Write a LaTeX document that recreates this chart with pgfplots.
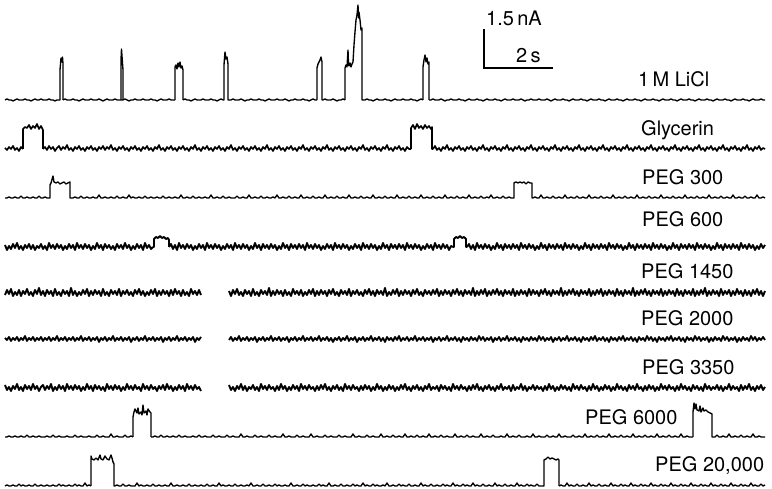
\documentclass[border=0pt]{standalone}
\usepackage{fontspec}
\setmainfont{TeX Gyre Heros}
\usepackage{pgfplots}
\usepackage{pgfplotstable}
\pgfplotsset{compat=1.18}
\pgfplotstableread{
x a b c d e f g h i
5 0 1 0 2 -2 1 3 0 0
7 1 -1 0 -3 3 -1 -2 0 1
9 0 2 1 1 -1 2 1 1 0
11 0 0 0 -2 4 -2 -3 0 0
13 -1 3 0 3 -3 1 2 0 1
15 0 -1 1 -1 1 -1 -1 1 0
17 1 1 0 4 -2 2 4 0 0
19 0 -2 0 -2 3 -2 -2 0 2
21 0 2 2 1 -3 1 1 1 0
23 0 0 0 -3 2 -1 -3 0 1
25 1 nan 0 2 -1 3 3 0 0
27 0 nan 1 -1 4 -2 -1 2 0
29 0 nan 0 3 -2 1 2 0 1
31 -1 nan 0 -2 1 -1 -2 0 0
33 0 nan 1 2 -3 2 4 1 0
35 1 nan 0 -3 3 -2 -1 0 2
37 0 nan 0 1 -1 1 2 0 0
39 0 nan 2 -1 5 -1 -3 1 0
41 1 nan 0 3 -2 2 1 0 1
43 0 0 0 -2 2 -2 3 0 0
45 0 2 1 1 -3 1 -2 0 0
47 0 -1 0 -3 3 -1 2 1 1
49 1 3 0 4 -1 2 -1 0 0
51 0 0 nan -1 2 -2 4 0 0
53 0 2 nan 2 -3 1 -3 2 1
55 -1 -2 nan -2 4 -1 1 0 0
57 0 1 nan 3 -2 3 -2 0 0
59 0 3 nan -1 1 -2 3 1 2
61 nan -1 nan 2 -3 1 -1 0 0
63 0 2 nan -3 3 -1 2 0 1
65 1 0 nan 1 -1 2 -3 0 0
67 0 4 nan -2 2 -2 4 1 0
69 0 -1 nan 3 -3 1 -1 0 1
71 0 1 0 -1 5 -1 2 0 0
73 1 -2 0 2 -2 2 -2 0 0
75 0 2 1 -3 2 -2 3 2 2
77 0 0 0 4 -3 1 -1 0 0
79 -1 3 0 -1 1 -1 2 0 1
81 0 -1 2 2 -2 3 -3 1 0
83 1 1 0 -2 3 -2 1 0 0
85 0 -2 0 3 -1 1 -2 0 3
87 0 2 1 -1 4 -1 4 0 0
89 0 0 0 2 -3 2 -1 1 1
91 1 3 0 -3 2 -2 2 0 0
93 0 -1 1 1 -2 1 -3 0 nan
95 0 1 0 -2 3 -1 3 0 nan
97 0 -2 0 4 -1 2 -1 2 nan
99 1 2 3 -1 2 -3 2 0 nan
101 0 0 0 2 -3 1 -2 0 nan
103 -1 3 0 -3 4 -1 1 1 nan
105 0 -1 1 3 -2 2 -3 0 nan
107 1 2 0 -1 1 -2 4 0 nan
109 0 0 0 2 -3 1 -1 0 nan
111 0 4 1 -2 3 -1 2 3 nan
113 0 -1 0 1 -1 3 -2 0 nan
115 1 1 0 -3 2 -2 3 0 0
117 0 -2 2 3 -2 1 -1 1 1
119 0 2 0 -1 4 -1 2 0 0
121 0 0 0 2 -3 2 -3 0 0
123 0 3 1 -2 2 -2 1 0 2
125 1 -1 0 4 -1 1 -2 2 0
127 0 1 0 -1 3 -1 4 0 0
129 -1 -2 3 2 -2 2 -1 0 1
131 0 2 0 -3 1 -3 2 1 0
133 0 0 1 1 -3 1 -2 0 0
135 1 3 0 -2 3 -1 3 nan 0
137 0 -1 0 3 -1 2 -1 nan 3
139 0 1 1 -1 4 -2 1 nan 0
141 0 -2 0 2 -2 1 -3 nan 1
143 1 2 0 -3 2 -1 4 nan 0
145 0 0 2 4 -3 3 -1 nan 0
147 0 3 0 -1 1 -2 2 nan 1
149 0 -1 0 2 -2 1 -2 nan 0
151 1 1 1 -2 3 -1 3 0 0
153 0 -2 0 0 -1 2 -1 0 2
155 0 2 0 nan 4 -2 1 1 0
157 -1 0 1 nan -3 1 -3 0 0
159 0 4 0 nan 2 -1 2 0 1
161 1 -1 0 nan -2 2 -1 2 0
163 0 1 2 nan 3 -3 3 0 0
165 0 -2 0 nan -1 1 -2 0 1
167 0 2 0 nan 2 -1 4 1 0
169 1 0 1 0 -3 2 -1 0 0
171 0 3 0 3 3 -2 2 0 3
173 0 -1 0 -2 -2 1 -3 1 0
175 0 1 1 2 4 -1 1 0 0
177 nan -2 0 -3 -1 3 -2 0 1
179 nan 2 0 4 2 -2 3 2 0
181 nan 0 3 -1 -3 1 -1 0 0
183 0 3 0 2 3 -1 2 0 1
185 1 -1 0 -2 -2 2 -3 1 0
187 0 1 1 3 1 -2 4 0 0
189 0 -2 0 -1 -3 1 -1 0 2
191 -1 2 0 2 4 -1 2 0 0
193 0 0 2 -3 -1 2 -2 1 0
195 1 4 0 1 2 -3 3 0 1
197 0 -1 0 -2 -2 1 -1 0 0
199 0 1 1 3 3 -1 1 2 0
201 0 -2 0 -1 -2 2 -3 0 1
203 1 2 0 2 nan nan nan 0 0
205 0 0 1 -3 nan nan nan 1 0
207 0 3 0 4 nan nan nan 0 2
209 0 -1 0 -1 nan nan nan 0 0
211 1 1 3 2 nan nan nan 0 0
213 0 -2 0 -2 nan nan nan 2 1
215 0 2 0 3 nan nan nan 0 0
217 -1 0 1 -1 nan nan nan 0 0
219 0 3 0 2 nan nan nan 1 3
221 1 -1 0 -3 nan nan nan 0 0
223 0 1 2 1 nan nan nan 0 1
225 nan -2 0 -2 nan nan nan 0 0
227 nan 2 0 3 nan nan nan 2 0
229 0 0 1 -1 2 -1 3 0 1
231 0 4 0 2 -3 2 -2 0 0
233 1 -1 0 -3 3 -2 1 1 0
235 0 1 0 4 -1 1 -3 0 2
237 0 -2 2 -1 4 -1 2 0 0
239 0 2 0 2 -2 3 -1 0 0
241 1 0 0 -2 1 -2 4 3 1
243 0 3 1 3 -3 1 -2 0 0
245 -1 -1 0 -1 3 -1 2 0 0
247 0 1 0 2 -1 2 -3 1 1
249 0 -2 3 -3 2 -2 1 0 0
251 1 2 0 1 -3 1 -1 0 3
253 0 0 0 -2 4 -1 3 0 0
255 0 3 1 4 -2 2 -2 2 0
257 0 -1 0 -1 1 -3 1 0 1
259 1 1 0 2 -3 1 -3 0 0
261 0 -2 2 -3 3 -1 4 1 0
263 0 2 0 3 -1 2 -1 0 2
265 -1 0 0 -1 2 -2 2 0 0
267 0 4 1 2 -2 1 -2 0 0
269 1 -1 0 -2 5 -1 3 2 1
271 0 1 0 3 -3 3 -1 0 0
273 0 -2 1 -1 2 -2 1 0 0
275 0 2 0 2 -2 1 -3 1 2
277 1 0 3 -3 3 -1 2 0 0
279 0 3 0 1 -1 2 -2 0 1
281 0 -1 0 -2 2 -2 4 0 0
283 0 1 1 4 -3 1 -1 3 0
285 1 -2 0 -1 3 -1 2 0 1
287 0 2 0 2 -2 2 -3 0 0
289 -1 0 2 -3 1 -3 1 1 0
291 0 3 0 3 -3 1 -2 0 3
293 0 -1 0 -1 4 -1 3 0 0
295 1 1 1 2 -1 2 -1 0 0
297 0 -2 0 -2 2 -2 2 2 1
299 0 2 0 3 -2 1 -3 0 0
301 0 0 3 -1 3 -1 4 0 0
303 1 4 0 2 -3 3 -1 1 2
305 0 -1 0 -3 1 -2 2 0 0
307 0 1 1 4 -2 1 -2 0 1
309 -1 -2 0 -1 3 -1 3 0 0
311 0 2 0 2 -1 2 -1 3 0
313 1 0 2 -2 4 -2 1 0 1
315 0 3 0 3 -3 1 -3 0 0
317 0 -1 0 -1 2 -1 2 1 0
319 nan 1 1 2 -2 3 -2 0 2
321 nan -2 0 -3 3 -2 3 0 0
323 0 2 0 1 -1 1 -1 0 1
325 1 0 3 -2 2 -1 4 2 0
327 0 4 0 3 -3 2 -2 0 0
329 0 -1 0 -1 3 -2 1 0 3
331 0 1 1 2 -1 1 -3 1 0
333 1 -2 0 -3 4 -3 2 0 0
335 0 2 0 4 -2 1 -1 0 1
337 -1 0 2 -1 1 -1 3 0 0
339 0 3 0 2 -3 2 -2 2 0
341 0 -1 0 -2 3 -2 1 0 2
343 1 1 1 3 -1 1 -3 0 0
345 0 -2 0 -1 2 -1 4 1 0
347 nan 2 0 2 -2 3 -1 0 1
349 nan 0 3 -3 4 -2 2 0 0
351 nan 3 0 1 -3 1 -2 0 0
353 nan -1 0 -2 2 -1 3 3 2
355 nan 1 1 3 -1 2 -1 0 0
357 nan -2 0 -1 3 -3 1 0 1
359 nan 2 0 2 -2 1 -3 1 0
361 nan 0 2 -3 1 -1 2 0 0
363 0 4 0 4 -3 2 -2 0 3
365 0 -1 0 -1 3 -2 3 0 0
367 1 1 1 2 -1 1 -1 2 1
369 0 -2 0 -2 4 -1 2 0 0
371 0 2 0 3 -2 3 -3 0 0
373 -1 0 3 -1 2 -2 1 1 2
375 0 3 0 2 -3 1 -2 0 0
377 1 -1 0 -3 3 -1 4 0 1
379 0 1 1 1 -1 2 -1 0 0
381 0 -2 0 -2 2 -2 2 3 0
383 0 2 0 4 -2 1 -3 0 1
385 1 0 2 -1 5 -3 1 0 0
387 0 4 0 2 -3 2 -2 1 3
389 0 -1 0 -3 1 -1 3 0 0
391 -1 1 1 3 -2 1 -1 0 0
393 0 -2 0 -1 3 -2 2 2 1
395 1 2 0 2 -1 2 -3 0 0
397 0 0 3 -2 4 -1 1 0 0
399 0 3 0 3 -3 3 -2 1 2
401 0 -1 0 -1 2 -2 3 0 0
403 1 1 1 2 -2 1 -1 0 1
405 0 -2 0 -3 3 -1 4 3 0
407 0 2 0 4 -1 2 -2 0 0
409 0 0 2 -1 2 -2 1 0 2
411 1 0 0 2 -3 1 -3 1 0
413 0 nan 0 -2 3 -1 2 0 0
415 0 nan 1 3 -1 3 -1 0 1
417 -1 nan 0 -1 4 -2 3 2 0
419 0 nan 0 2 -2 1 -2 0 0
421 1 nan 3 -3 1 -1 1 0 3
423 0 nan 0 1 -3 2 -3 1 0
425 nan nan 0 -2 3 -2 2 0 1
427 nan nan 1 3 -1 1 -1 0 0
429 0 nan 0 -1 2 -1 4 3 0
431 0 nan 0 2 -2 2 -2 0 2
433 1 0 2 -3 3 -3 1 0 0
435 0 3 0 4 -1 1 -1 1 0
437 0 -1 0 -1 4 -1 2 0 1
439 0 1 1 2 -3 2 -3 0 0
441 1 -2 0 -2 2 -2 3 2 0
443 0 2 0 3 -2 1 -1 0 2
445 -1 0 3 -1 3 -1 2 0 0
447 0 4 0 2 -1 3 -2 1 1
449 0 -1 0 -3 2 -2 1 0 0
451 1 1 1 1 -3 1 -3 0 0
453 0 -2 0 0 3 -1 4 0 3
455 0 2 0 nan -1 2 -1 3 0
457 0 0 2 nan 4 -2 2 0 1
459 1 3 0 nan -2 1 -2 0 0
461 0 -1 0 nan 2 -3 3 1 0
463 0 1 1 nan -3 2 -1 0 2
465 -1 -2 0 nan 3 -1 1 0 0
467 0 2 0 0 -1 1 -3 2 1
469 1 0 3 3 2 -2 2 0 0
471 0 3 0 -2 -2 2 -2 0 0
473 0 -1 0 2 5 -1 3 1 3
475 0 1 1 -3 -3 1 -1 0 0
477 1 -2 0 4 2 -2 4 0 1
479 0 2 0 -1 -2 3 -2 0 0
481 0 0 2 2 3 -1 1 3 0
483 -1 4 0 -2 -1 2 -3 0 2
485 0 -1 0 3 4 -2 2 0 0
487 1 1 1 -1 -3 1 -1 1 0
489 0 -2 0 2 2 -1 3 0 1
491 0 2 3 -3 -2 2 -2 0 0
493 0 0 0 1 3 -3 1 2 0
495 1 3 0 -2 -1 1 -3 0 3
497 0 -1 1 4 4 -1 2 0 0
499 0 1 0 -1 -2 2 -1 0 1
501 -1 -2 0 2 2 -2 4 1 0
503 0 2 2 -3 -3 1 -2 0 0
505 1 0 0 3 3 -1 1 0 2
507 0 4 0 -1 -1 3 -1 3 0
509 0 -1 1 2 2 -2 2 0 0
511 0 1 0 -2 -2 1 -3 0 1
513 1 -2 0 3 4 -1 3 1 0
515 0 2 nan -1 -3 2 -2 0 0
517 0 0 nan 2 2 -2 1 0 3
519 0 3 nan -3 -2 1 -1 2 0
521 1 -1 nan 4 3 -3 4 0 1
523 0 1 nan -1 -1 2 -2 0 0
525 -1 -2 nan 2 2 -1 2 0 0
527 0 2 nan -2 -3 1 -3 1 2
529 0 0 nan 3 4 -2 1 0 0
531 1 4 nan -1 -2 2 -1 0 1
533 0 -1 0 2 3 -1 3 3 0
535 0 1 1 -3 -1 1 -2 0 0
537 0 -2 0 1 2 -2 2 0 2
539 1 2 0 -2 -3 3 -1 1 0
541 0 0 3 4 3 -1 1 0 0
543 0 3 0 -1 -1 2 -3 0 0
545 0 -1 0 2 4 -2 2 0 nan
547 1 1 1 -3 -2 1 -2 2 nan
549 0 -2 0 3 2 -1 4 0 nan
551 -1 2 0 -1 -3 2 -1 0 nan
553 0 0 2 2 3 -3 2 1 nan
555 1 4 0 -2 -1 1 -3 0 nan
557 0 -1 0 3 2 -1 1 0 nan
559 0 1 1 -1 -2 2 -2 3 0
561 0 -2 0 2 5 -2 3 0 1
563 1 2 0 -3 -3 1 -1 0 0
565 0 0 3 4 2 -1 2 1 0
567 0 3 0 -1 -2 3 -2 0 3
569 -1 -1 0 2 3 -2 1 0 0
571 0 1 1 -2 -1 1 -3 0 1
573 1 -2 0 3 4 -1 4 2 0
575 0 2 0 -1 -2 2 -1 0 0
577 0 0 2 2 2 -2 2 0 2
579 0 4 0 -3 -3 1 -2 1 0
581 1 -1 0 1 3 -3 3 0 0
583 0 1 1 -2 -1 2 -1 0 1
585 0 -2 0 4 2 -1 1 3 0
587 -1 2 0 -1 -2 1 -3 0 0
589 0 0 3 2 4 -2 2 0 3
591 1 3 0 -3 -3 2 -2 1 0
593 0 -1 0 3 2 -1 4 0 1
595 0 1 1 -1 -2 3 -1 0 0
597 0 -2 0 2 3 -2 2 2 0
599 1 2 0 -2 -1 1 -3 0 2
601 0 0 2 3 4 -1 1 0 0
603 0 4 0 -1 -3 2 -2 1 0
605 -1 -1 0 2 2 -2 3 0 1
607 0 1 1 -3 -2 1 -1 0 0
609 1 -2 0 4 3 -3 2 3 0
611 0 2 0 -1 -1 2 -3 0 3
613 0 0 3 2 2 -1 1 0 0
615 0 3 0 -2 -3 1 -2 1 1
617 1 -1 0 3 4 -2 4 0 0
619 0 1 1 -1 -2 2 -1 0 0
621 0 -2 0 2 2 -1 2 2 2
623 -1 2 0 -3 -3 3 -2 0 0
625 0 0 2 1 3 -2 1 0 1
627 1 4 0 -2 -1 1 -3 1 0
629 0 -1 0 4 2 -1 3 0 0
631 0 1 1 -1 -2 2 -1 0 3
633 0 -2 0 2 5 -2 2 3 0
635 1 2 0 -3 -3 1 -2 0 1
637 0 0 3 3 2 -3 4 0 0
639 0 3 0 -1 -2 2 -1 1 0
641 -1 -1 0 2 3 -1 1 0 2
643 0 1 1 -2 -1 1 -3 0 0
645 1 -2 0 3 4 -2 2 2 1
647 0 2 0 -1 -2 3 -2 0 0
649 0 0 2 2 2 -1 3 0 0
651 0 4 0 -3 -3 2 -1 1 3
653 1 -1 0 4 3 -2 2 0 0
655 0 1 1 -1 -1 1 -3 0 1
657 0 -2 0 2 2 -3 1 3 0
659 -1 2 0 -2 -2 2 -2 0 0
661 0 0 3 3 4 -1 4 0 2
663 1 3 0 -1 -3 1 -1 1 0
665 0 -1 0 2 2 -2 2 0 1
667 0 1 1 -3 -2 2 -2 0 0
669 0 -2 0 1 3 -1 3 2 0
671 1 2 0 -2 -1 3 -1 0 3
673 0 0 2 4 2 -2 1 0 0
675 0 4 0 -1 -3 1 -3 1 1
677 -1 -1 0 2 4 -1 2 0 0
679 0 1 1 -3 -2 2 -2 0 0
681 1 -2 0 3 2 -2 4 3 2
683 0 2 0 -1 -3 1 -1 0 0
685 0 0 3 2 3 -3 2 0 1
687 0 3 0 -2 -1 2 -2 1 0
689 1 -1 0 3 2 -1 1 0 0
691 0 1 1 -1 -2 1 -3 0 3
693 0 -2 0 2 4 -2 3 0 0
695 -1 2 0 -3 -3 3 -1 nan 1
697 0 0 2 4 2 -1 2 nan 0
699 1 4 0 -1 -2 2 -2 nan 0
701 0 -1 0 2 3 -2 1 nan 2
703 0 1 1 -2 -1 1 -3 nan 0
705 0 -2 0 3 5 -1 4 nan 1
707 1 2 0 -1 -3 2 -1 nan 0
709 0 0 3 2 2 -3 2 nan 0
711 0 3 0 -3 -2 1 -2 nan 3
713 -1 -1 0 1 3 -2 1 0 0
715 0 1 1 -2 -1 2 -1 0 1
717 1 -2 0 4 2 -1 3 2 0
719 0 2 0 -1 -3 1 -2 0 0
721 0 0 2 2 4 -2 2 0 2
723 0 4 0 -3 -2 3 -3 1 0
725 1 -1 0 3 2 -1 1 0 1
727 0 1 1 -1 -1 2 -1 0 0
729 0 -2 0 2 3 -2 4 3 0
731 -1 2 0 -2 -3 1 -2 0 3
733 0 0 3 3 2 -1 2 0 0
735 1 3 0 -1 -2 2 -1 1 1
737 0 -1 0 2 4 -3 1 0 0
739 0 1 1 -3 -1 1 -3 0 0
741 0 -2 0 4 2 -2 3 2 2
743 1 2 0 -1 -3 2 -2 0 0
745 0 0 2 2 3 -1 2 0 1
747 0 4 0 -2 -2 1 -1 1 0
749 -1 -1 0 3 2 -2 4 0 0
751 0 1 1 -1 -3 3 -2 0 3
753 1 -2 0 2 3 -1 1 3 0
755 0 2 0 -3 -1 2 -3 0 1
757 0 0 3 1 4 -2 2 0 0
759 0 3 0 -2 -2 1 -1 1 0
761 1 -1 0 3 2 -1 3 0 2
763 0 1 1 -1 -3 2 -2 0 0
765 0 0 0 2 2 -1 1 0 1
}\noise
\begin{document}
\begin{tikzpicture}
\begin{axis}[
  width=772pt, height=489pt, scale only axis,
  xmin=0, xmax=772, ymin=-489, ymax=0,
  hide axis, clip=false, unbounded coords=jump,
  every axis plot/.append style={line width=1.35pt},
  every axis plot post/.append style={black, solid, mark=none, line join=round},
]
\path (axis cs:0,0) rectangle (axis cs:772,-489);
% baselines with noise
\addplot table[x=x, y expr=\thisrow{a}-100]{\noise};
\addplot+[line width=1.6pt] table[x=x, y expr=\thisrow{b}-149]{\noise};
\addplot table[x=x, y expr=\thisrow{c}-198]{\noise};
\addplot+[line width=1.9pt] table[x=x, y expr=\thisrow{d}-247]{\noise};
\addplot+[line width=1.9pt] table[x=x, y expr=\thisrow{e}-293]{\noise};
\addplot+[line width=1.8pt] table[x=x, y expr=\thisrow{f}-339]{\noise};
\addplot+[line width=1.9pt] table[x=x, y expr=\thisrow{g}-388]{\noise};
\addplot table[x=x, y expr=\thisrow{h}-437]{\noise};
\addplot table[x=x, y expr=\thisrow{i}-486]{\noise};
% LiCl events
\addplot table[row sep=\\, y expr=\thisrow{y}-100]{x y\\59 0\\60 0\\60 30\\61 42\\62 38\\62.5 43\\63 36\\63 0\\};
\addplot table[row sep=\\, y expr=\thisrow{y}-100]{x y\\121 0\\121 40\\121.5 51\\122 44\\123 30\\123 0\\};
\addplot table[row sep=\\, y expr=\thisrow{y}-100]{x y\\175 0\\175 33\\176 35\\177 31\\178 37\\179 33\\180 38\\181 32\\182 34\\183 30\\183 0\\};
\addplot table[row sep=\\, y expr=\thisrow{y}-100]{x y\\223 0\\224 0\\224 35\\225 48\\226 41\\227 43\\228 36\\228 0\\229 0\\};
\addplot table[row sep=\\, y expr=\thisrow{y}-100]{x y\\317 0\\317 32\\318 36\\319 38\\320 40\\321 43\\322 38\\322 0\\323 0\\};
\addplot table[row sep=\\, y expr=\thisrow{y}-100]{x y\\345 0\\345 32\\346 35\\347 33\\348 50\\348.5 36\\349 34\\350 37\\351 33\\352 36\\353 38\\354 55\\355 68\\356 80\\357 85\\358 95\\358.5 82\\359 88\\360 80\\361 70\\362 72\\362 0\\363 0\\};
\addplot table[row sep=\\, y expr=\thisrow{y}-100]{x y\\423 0\\423 33\\424 40\\425 45\\426 38\\427 42\\428 36\\429 38\\429 0\\};
% Glycerin events
\addplot+[line width=1.6pt] table[row sep=\\, y expr=\thisrow{y}-149]{x y\\23 0\\23 20\\25 22\\27 21\\29 24\\31 20\\33 23\\35 21\\37 25\\39 20\\41 23\\43 19\\43 0\\};
\addplot+[line width=1.6pt] table[row sep=\\, y expr=\thisrow{y}-149]{x y\\411 0\\411 21\\413 24\\415 20\\417 25\\419 21\\421 23\\423 20\\425 24\\427 21\\429 23\\431 20\\432 22\\432 0\\433 0\\};
% PEG 300 events
\addplot table[row sep=\\, y expr=\thisrow{y}-198]{x y\\49 0\\50 0\\50 13\\51 15\\53 22\\54 16\\56 15\\58 16\\60 14\\62 15\\64 16\\66 14\\68 15\\70 16\\70 0\\71 0\\};
\addplot table[row sep=\\, y expr=\thisrow{y}-198]{x y\\513 0\\514 0\\514 15\\516 16\\518 15\\520 16\\522 15\\524 16\\526 14\\528 16\\530 15\\532 15\\532 0\\533 0\\};
% PEG 600 events
\addplot+[line width=1.9pt] table[row sep=\\, y expr=\thisrow{y}-247]{x y\\153 0\\154 0\\154 8\\156 10\\158 9\\160 11\\162 9\\164 10\\166 8\\168 9\\169 7\\169 0\\};
\addplot+[line width=1.9pt] table[row sep=\\, y expr=\thisrow{y}-247]{x y\\453 0\\454 0\\454 8\\456 10\\458 9\\460 11\\462 9\\464 10\\466 8\\466 0\\467 0\\};
% PEG 6000 events
\addplot table[row sep=\\, y expr=\thisrow{y}-437]{x y\\133 0\\133 20\\134 25\\135 28\\137 24\\138 29\\139 23\\141 25\\142 22\\143 32\\144 24\\146 26\\147 22\\148 28\\150 25\\151 24\\151 0\\};
\addplot table[row sep=\\, y expr=\thisrow{y}-437]{x y\\693 0\\693 25\\694 34\\695 28\\696 33\\697 27\\699 26\\700 31\\701 25\\703 29\\704 26\\706 27\\708 25\\710 24\\712 23\\712 0\\713 0\\};
% PEG 20,000 events
\addplot table[row sep=\\, y expr=\thisrow{y}-486]{x y\\91 0\\91 30\\92 27\\94 26\\96 28\\98 26\\100 31\\101 27\\103 26\\105 30\\107 27\\109 26\\111 31\\112 28\\113 24\\114 22\\114 0\\115 0\\};
\addplot table[row sep=\\, y expr=\thisrow{y}-486]{x y\\543 0\\544 0\\544 26\\546 27\\548 29\\550 27\\552 28\\554 27\\556 26\\558 27\\559 26\\559 0\\};
% scale bar
\draw[black, line width=1.2pt] (axis cs:484,-29) -- (axis cs:484,-68) -- (axis cs:553,-68);
\begin{scope}[every node/.style={anchor=base west, inner sep=0pt, font=\fontsize{20}{24}\selectfont}]
\node at (axis cs:486,-26) {1.5\,nA};
\node at (axis cs:516,-63) {2\,s};
\node at (axis cs:638,-87) {1\,M LiCl};
\node at (axis cs:641,-136) {Glycerin};
\node at (axis cs:642,-185) {PEG 300};
\node at (axis cs:642,-227) {PEG 600};
\node at (axis cs:641,-279) {PEG 1450};
\node at (axis cs:641,-326) {PEG 2000};
\node at (axis cs:642,-375) {PEG 3350};
\node at (axis cs:585,-425) {PEG 6000};
\node at (axis cs:655,-472) {PEG 20,000};
\end{scope}
\end{axis}
\end{tikzpicture}
\end{document}
